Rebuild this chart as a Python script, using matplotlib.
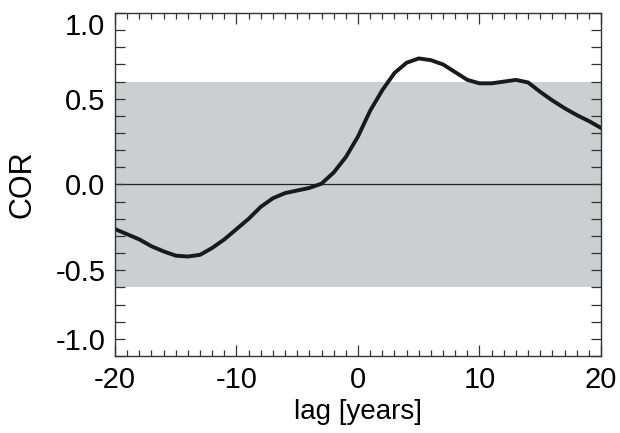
import matplotlib
matplotlib.use("Agg")
import matplotlib.pyplot as plt
from matplotlib.ticker import MultipleLocator

plt.rcParams["font.family"] = ["Liberation Sans", "DejaVu Sans"]
plt.rcParams["axes.unicode_minus"] = False

lag = list(range(-20, 21))
cor = [-0.26, -0.29, -0.32, -0.36, -0.39, -0.415, -0.42, -0.41, -0.37, -0.32,
       -0.26, -0.20, -0.13, -0.08, -0.05, -0.035, -0.02, 0.005, 0.07, 0.16,
       0.28, 0.43, 0.55, 0.65, 0.71, 0.735, 0.725, 0.70, 0.655, 0.61,
       0.59, 0.59, 0.60, 0.61, 0.595, 0.54, 0.49, 0.445, 0.405, 0.37, 0.33]
band_low, band_high = -0.6, 0.6
yticks = [-1.0, -0.5, 0.0, 0.5, 1.0]
xticks = [-20, -10, 0, 10, 20]

fig = plt.figure(figsize=(6.2, 4.33), dpi=100)
ax = fig.add_axes([115 / 620, 1 - 356 / 433, 486 / 620, 343 / 433])

ax.axhspan(band_low, band_high, color="#cdced0", lw=0, zorder=0)
ax.axhline(0, color="#222222", lw=0.9, zorder=1)
ax.plot(lag, cor, color="#1a1a1a", lw=2.8, solid_joinstyle="round", zorder=2)

ax.set_xlim(-20, 20)
ax.set_ylim(-1, 1)
ax.set_xticks(xticks)
ax.set_yticks(yticks)
ax.set_yticklabels([f"{v:.1f}" for v in yticks])
ax.xaxis.set_minor_locator(MultipleLocator(1))
ax.yaxis.set_minor_locator(MultipleLocator(0.1))
ax.tick_params(which="both", direction="in", top=True, right=True,
               labelsize=21, color="#333333", width=0.9)
ax.tick_params(axis="x", which="major", length=8, pad=7)
ax.tick_params(axis="x", which="minor", length=4)
ax.tick_params(axis="y", which="both", length=7, pad=7)
ylabels = ax.get_yticklabels()
ylabels[0].set_va("bottom")
ylabels[-1].set_va("top")
for s in ax.spines.values():
    s.set_linewidth(1.0)
    s.set_color("#333333")

ax.set_xlabel("lag [years]", fontsize=20, labelpad=4)
ax.set_ylabel("COR", fontsize=22, labelpad=13)

fig.savefig("out.png", dpi=100)
